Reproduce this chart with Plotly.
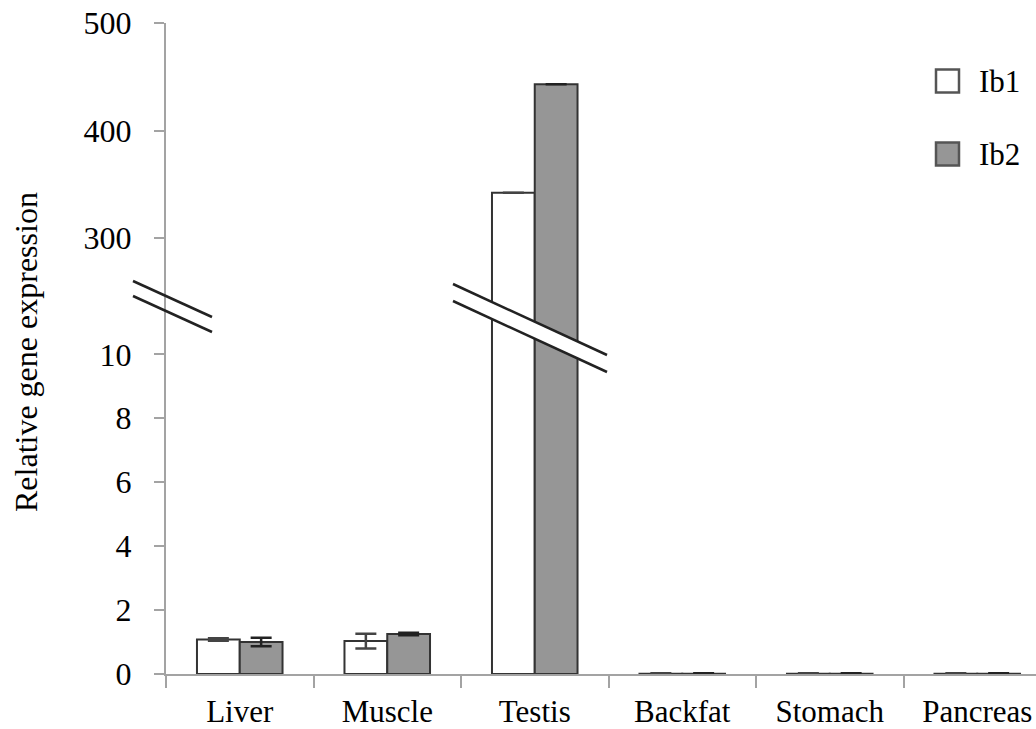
import plotly.graph_objects as go

# ---- data -------------------------------------------------------------
tissues = ["Liver", "Muscle", "Testis", "Backfat", "Stomach", "Pancreas"]
ib1_mean = [1.08, 1.03, 342, 0.01, 0.01, 0.01]
ib1_err = [0.04, 0.23, 0, 0.01, 0.01, 0.01]
ib2_mean = [1.00, 1.25, 443, 0.01, 0.01, 0.01]
ib2_err = [0.13, 0.04, 0, 0.01, 0.01, 0.01]

low_ticks = [0, 2, 4, 6, 8, 10]
high_ticks = [300, 400, 500]

# ---- page geometry (pixels) ------------------------------------------
W, H = 1036, 729
L, R, T, B = 166, 1036, 23, 674          # plot area edges
SPLIT = 300                               # pixel row where the axis breaks
PX_PER_UNIT_LOW = (674 - 354.3) / 10      # lower segment scale
PX_PER_UNIT_HIGH = (238.3 - 23.3) / 200   # upper segment scale
CAT_W = 147.5                             # pixels per category

plot_h = B - T
split_frac = (B - SPLIT) / plot_h
low_max = (B - SPLIT) / PX_PER_UNIT_LOW
high_min = 500 - (SPLIT - T) / PX_PER_UNIT_HIGH
x_max = -0.5 + (R - L) / CAT_W


def px(x):
    return (x - L) / (R - L)


def py(y):
    return (B - y) / plot_h


FONT = "Liberation Serif, Times New Roman, serif"
EDGE = "#333333"
AXIS = "#a3a3a3"
GRAY = "#969696"

fig = go.Figure()

for yax in ("y", "y2"):
    fig.add_trace(go.Bar(
        x=tissues, y=ib1_mean, name="Ib1", yaxis=yax, showlegend=False,
        marker=dict(color="white", line=dict(color=EDGE, width=2)),
        error_y=dict(type="data", array=ib1_err, color="#444444",
                     thickness=2.5, width=10.5),
    ))
    fig.add_trace(go.Bar(
        x=tissues, y=ib2_mean, name="Ib2", yaxis=yax, showlegend=False,
        marker=dict(color=GRAY, line=dict(color=EDGE, width=2)),
        error_y=dict(type="data", array=ib2_err, color="#222222",
                     thickness=2.5, width=10.5),
    ))

tick_font = dict(family=FONT, size=32, color="black")
x_font = dict(family=FONT, size=31, color="black")
common_y = dict(
    showgrid=False, zeroline=False, showline=True, linecolor=AXIS,
    linewidth=2, ticks="outside", ticklen=10, tickcolor=AXIS, tickwidth=2,
    tickfont=tick_font, ticklabelstandoff=16, anchor="x",
)

shapes = []
# axis-break marks on the value axis
for y0, y1 in ((281, 317), (296, 332)):
    shapes.append(dict(type="line", xref="paper", yref="paper",
                       x0=px(133), y0=py(y0), x1=px(212), y1=py(y1),
                       line=dict(color="#222222", width=2.5), layer="above"))
# break band across the testis bars
shapes.append(dict(
    type="path", xref="paper", yref="paper",
    path=(f"M{px(453)},{py(284)} L{px(607)},{py(355)} "
          f"L{px(607)},{py(372)} L{px(453)},{py(301)} Z"),
    fillcolor="white", line=dict(width=0), layer="above"))
for y0, y1 in ((284, 355), (301, 372)):
    shapes.append(dict(type="line", xref="paper", yref="paper",
                       x0=px(453), y0=py(y0), x1=px(607), y1=py(y1),
                       line=dict(color="#222222", width=2.5), layer="above"))

# legend keys
legend_items = [("Ib1", "white", 81), ("Ib2", GRAY, 154)]
annotations = []
for label, fill, cy in legend_items:
    shapes.append(dict(type="rect", xref="paper", yref="paper",
                       x0=px(936), x1=px(959), y0=py(cy - 11.5), y1=py(cy + 11.5),
                       fillcolor=fill, line=dict(color="#555555", width=2.5),
                       layer="above"))
    annotations.append(dict(text=label, xref="paper", yref="paper",
                            x=px(977), y=py(cy), xanchor="left", yanchor="middle",
                            showarrow=False, font=x_font))

annotations.append(dict(text="Relative gene expression", xref="paper", yref="paper",
                        x=px(26), y=py(352), textangle=-90, xanchor="center",
                        yanchor="middle", showarrow=False,
                        font=dict(family=FONT, size=32, color="black")))

fig.update_layout(
    width=W, height=H,
    margin=dict(l=L, r=W - R, t=T, b=H - B),
    paper_bgcolor="white", plot_bgcolor="white",
    barmode="group", bargap=0.42, bargroupgap=0,
    showlegend=False,
    xaxis=dict(
        range=[-0.5, x_max], showgrid=False, zeroline=False, showline=True,
        linecolor=AXIS, linewidth=2, ticks="outside", ticklen=12,
        tickcolor=AXIS, tickwidth=2, tickson="boundaries",
        tickfont=x_font, ticklabelstandoff=9, anchor="y",
    ),
    yaxis=dict(domain=[0, split_frac], range=[0, low_max], tickvals=low_ticks,
               **common_y),
    yaxis2=dict(domain=[split_frac, 1], range=[high_min, 500],
                tickvals=high_ticks, **common_y),
    shapes=shapes,
    annotations=annotations,
)

fig.write_html("out.html")
